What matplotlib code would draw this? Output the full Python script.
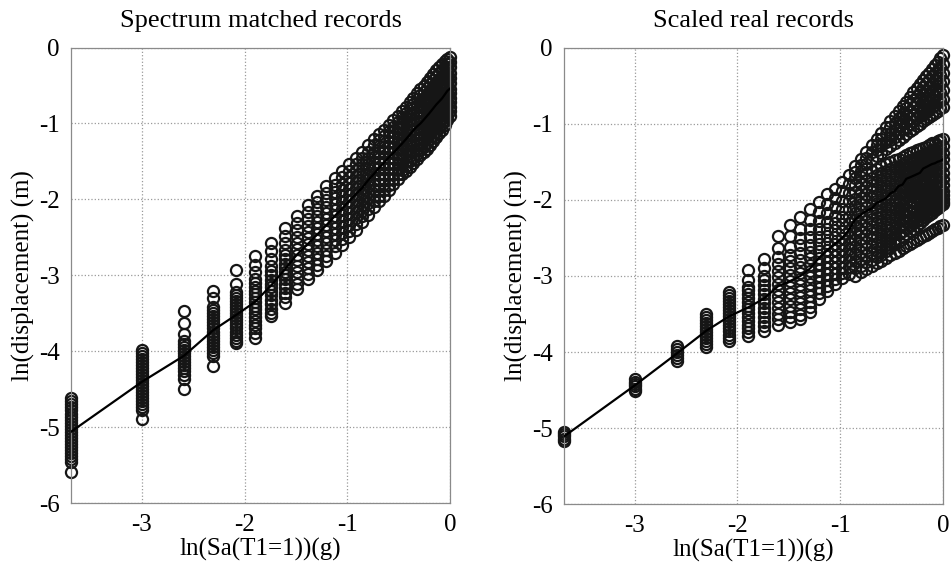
import matplotlib
matplotlib.use("Agg")
import matplotlib.pyplot as plt
import numpy as np

# intensity levels Sa(T1=1) in g (40 steps)
sa_levels = [0.025, 0.05, 0.075, 0.1, 0.125, 0.15, 0.175, 0.2, 0.225, 0.25,
             0.275, 0.3, 0.325, 0.35, 0.375, 0.4, 0.425, 0.45, 0.475, 0.5,
             0.525, 0.55, 0.575, 0.6, 0.625, 0.65, 0.675, 0.7, 0.725, 0.75,
             0.775, 0.8, 0.825, 0.85, 0.875, 0.9, 0.925, 0.95, 0.975, 1.0]

# ln(displacement) read per level - spectrum matched records
matched = [
    [-4.62, -4.66, -4.70, -4.74, -4.78, -4.82, -4.86, -4.90, -4.94, -4.98, -5.02, -5.06,
     -5.10, -5.14, -5.18, -5.22, -5.26, -5.30, -5.34, -5.38, -5.42, -5.46, -5.59],
    [-3.98, -4.02, -4.06, -4.10, -4.14, -4.18, -4.22, -4.26, -4.30, -4.34, -4.38, -4.42,
     -4.46, -4.50, -4.54, -4.58, -4.62, -4.66, -4.70, -4.74, -4.78, -4.89],
    [-3.47, -3.63, -3.77, -3.86, -3.90, -3.94, -3.98, -4.02, -4.06, -4.10, -4.14, -4.18,
     -4.22, -4.26, -4.31, -4.36, -4.50],
    [-3.20, -3.30, -3.42, -3.46, -3.50, -3.54, -3.58, -3.62, -3.66, -3.70, -3.74, -3.78,
     -3.82, -3.86, -3.90, -3.94, -3.98, -4.02, -4.06, -4.20],
    [-2.93, -3.12, -3.22, -3.26, -3.30, -3.34, -3.38, -3.42, -3.46, -3.50, -3.54, -3.58,
     -3.62, -3.66, -3.70, -3.74, -3.78, -3.82, -3.86, -3.89],
    [-2.75, -2.86, -2.96, -3.05, -3.10, -3.15, -3.20, -3.25, -3.30, -3.35, -3.40, -3.45,
     -3.50, -3.55, -3.60, -3.65, -3.70, -3.76, -3.83],
    [-2.57, -2.68, -2.78, -2.88, -2.94, -3.00, -3.06, -3.11, -3.16, -3.21, -3.26, -3.32, -3.38, -3.44, -3.49, -3.54],
    [-2.38, -2.48, -2.58, -2.67, -2.73, -2.79, -2.85, -2.90, -2.95, -3.00, -3.05, -3.11, -3.17, -3.23, -3.29, -3.36],
    [-2.22, -2.31, -2.40, -2.49, -2.57, -2.65, -2.73, -2.80, -2.88, -2.96, -3.04, -3.11, -3.18],
    [-2.08, -2.17, -2.26, -2.35, -2.43, -2.51, -2.59, -2.67, -2.75, -2.83, -2.91, -2.98, -3.05],
    [-1.95, -2.04, -2.13, -2.22, -2.30, -2.38, -2.46, -2.54, -2.62, -2.70, -2.78, -2.86, -2.93],
    [-1.83, -1.92, -2.01, -2.10, -2.18, -2.26, -2.34, -2.42, -2.50, -2.58, -2.66, -2.74, -2.81],
    [-1.72, -1.81, -1.90, -1.98, -2.06, -2.14, -2.22, -2.30, -2.38, -2.46, -2.54, -2.62, -2.70],
    [-1.62, -1.71, -1.80, -1.88, -1.96, -2.04, -2.12, -2.20, -2.28, -2.36, -2.44, -2.52, -2.60],
    [-1.53, -1.62, -1.70, -1.78, -1.86, -1.94, -2.02, -2.10, -2.18, -2.26, -2.34, -2.42, -2.50],
    [-1.45, -1.53, -1.61, -1.69, -1.77, -1.85, -1.93, -2.01, -2.09, -2.17, -2.25, -2.32, -2.40],
    [-1.37, -1.45, -1.53, -1.61, -1.69, -1.77, -1.85, -1.92, -1.99, -2.07, -2.15, -2.22, -2.30],
    [-1.29, -1.37, -1.45, -1.53, -1.60, -1.68, -1.75, -1.83, -1.90, -1.98, -2.05, -2.12, -2.20],
    [-1.21, -1.29, -1.37, -1.44, -1.52, -1.59, -1.67, -1.74, -1.81, -1.88, -1.95, -2.02, -2.10],
    [-1.14, -1.22, -1.30, -1.37, -1.45, -1.52, -1.59, -1.66, -1.73, -1.80, -1.87, -1.95, -2.02],
    [-1.08, -1.16, -1.23, -1.31, -1.38, -1.45, -1.52, -1.59, -1.66, -1.73, -1.80, -1.88, -1.95],
    [-1.02, -1.10, -1.17, -1.24, -1.31, -1.38, -1.45, -1.52, -1.59, -1.66, -1.73, -1.81, -1.88],
    [-0.96, -1.04, -1.11, -1.18, -1.25, -1.32, -1.39, -1.46, -1.52, -1.59, -1.66, -1.73, -1.80],
    [-0.90, -0.98, -1.05, -1.12, -1.19, -1.26, -1.33, -1.40, -1.46, -1.53, -1.60, -1.67, -1.73],
    [-0.84, -0.92, -0.99, -1.06, -1.13, -1.20, -1.27, -1.34, -1.40, -1.47, -1.54, -1.61, -1.67],
    [-0.78, -0.86, -0.93, -1.00, -1.07, -1.14, -1.21, -1.28, -1.35, -1.42, -1.49, -1.56, -1.62],
    [-0.72, -0.80, -0.87, -0.94, -1.01, -1.08, -1.15, -1.22, -1.29, -1.36, -1.43, -1.50, -1.57],
    [-0.66, -0.74, -0.81, -0.88, -0.95, -1.02, -1.09, -1.17, -1.24, -1.31, -1.38, -1.45, -1.52],
    [-0.60, -0.68, -0.76, -0.83, -0.90, -0.97, -1.04, -1.12, -1.19, -1.26, -1.33, -1.40, -1.47],
    [-0.55, -0.63, -0.71, -0.78, -0.85, -0.92, -1.00, -1.07, -1.14, -1.21, -1.28, -1.35, -1.42],
    [-0.50, -0.58, -0.66, -0.73, -0.80, -0.88, -0.95, -1.02, -1.09, -1.16, -1.23, -1.31, -1.38],
    [-0.45, -0.53, -0.61, -0.68, -0.76, -0.83, -0.90, -0.97, -1.04, -1.11, -1.19, -1.26, -1.33],
    [-0.40, -0.48, -0.56, -0.63, -0.71, -0.78, -0.85, -0.92, -0.99, -1.06, -1.14, -1.21, -1.28],
    [-0.35, -0.43, -0.51, -0.58, -0.66, -0.73, -0.80, -0.87, -0.94, -1.01, -1.09, -1.16, -1.23],
    [-0.30, -0.38, -0.46, -0.53, -0.61, -0.68, -0.75, -0.82, -0.89, -0.96, -1.04, -1.11, -1.18],
    [-0.26, -0.34, -0.42, -0.49, -0.57, -0.64, -0.71, -0.78, -0.85, -0.92, -0.99, -1.06, -1.13],
    [-0.22, -0.30, -0.37, -0.45, -0.52, -0.60, -0.67, -0.74, -0.81, -0.88, -0.94, -1.01, -1.08],
    [-0.18, -0.26, -0.33, -0.41, -0.48, -0.55, -0.62, -0.69, -0.76, -0.83, -0.89, -0.96, -1.02],
    [-0.15, -0.22, -0.29, -0.36, -0.43, -0.50, -0.57, -0.64, -0.71, -0.77, -0.83, -0.90, -0.96],
    [-0.12, -0.19, -0.26, -0.33, -0.40, -0.47, -0.54, -0.60, -0.66, -0.72, -0.78, -0.84, -0.90],
]

# ln(displacement) read per level - scaled real records
scaled = [
    [-5.05, -5.08, -5.11, -5.14, -5.17],
    [-4.36, -4.39, -4.42, -4.45, -4.48, -4.51],
    [-3.92, -3.96, -4.00, -4.04, -4.08, -4.12],
    [-3.50, -3.54, -3.58, -3.62, -3.66, -3.70, -3.74, -3.78, -3.82, -3.86, -3.90, -3.93],
    [-3.21, -3.25, -3.29, -3.33, -3.37, -3.41, -3.45, -3.49, -3.53, -3.57, -3.61, -3.65,
     -3.69, -3.73, -3.77, -3.81, -3.85],
    [-2.92, -3.06, -3.14, -3.19, -3.24, -3.29, -3.34, -3.39, -3.44, -3.49, -3.54, -3.59,
     -3.64, -3.69, -3.74, -3.79],
    [-2.78, -2.90, -3.00, -3.06, -3.12, -3.18, -3.24, -3.30, -3.36, -3.42, -3.48, -3.54, -3.60, -3.66, -3.72],
    [-2.47, -2.63, -2.75, -2.84, -2.93, -3.02, -3.10, -3.18, -3.26, -3.34, -3.42, -3.50, -3.57, -3.64],
    [-2.33, -2.48, -2.62, -2.72, -2.81, -2.90, -2.99, -3.07, -3.15, -3.23, -3.31, -3.39, -3.47, -3.54, -3.60],
    [-2.23, -2.38, -2.50, -2.60, -2.70, -2.79, -2.88, -2.96, -3.04, -3.12, -3.20, -3.28, -3.36, -3.44, -3.51, -3.56],
    [-2.12, -2.26, -2.38, -2.49, -2.59, -2.68, -2.77, -2.86, -2.94, -3.02, -3.10, -3.18, -3.26, -3.34, -3.41, -3.48],
    [-2.03, -2.16, -2.28, -2.39, -2.49, -2.58, -2.67, -2.76, -2.84, -2.92, -3.00, -3.08, -3.16, -3.23, -3.30],
    [-1.93, -2.06, -2.18, -2.29, -2.39, -2.48, -2.57, -2.66, -2.74, -2.82, -2.90, -2.98, -3.06, -3.13, -3.20],
    [-1.86, -1.98, -2.10, -2.21, -2.31, -2.40, -2.49, -2.58, -2.66, -2.74, -2.82, -2.90, -2.97, -3.04, -3.11],
    [-1.77, -1.89, -2.01, -2.12, -2.22, -2.32, -2.41, -2.50, -2.58, -2.66, -2.74, -2.82, -2.89, -2.96, -3.03],
    [-1.67, -1.79, -1.91, -2.02, -2.12, -2.22, -2.31, -2.40, -2.49, -2.57, -2.65, -2.73, -2.81, -2.88, -2.98],
    [-1.56, -1.64, -1.72, -1.81, -1.90, -1.99, -2.08, -2.17, -2.26, -2.35, -2.44, -2.53, -2.62, -2.71, -2.80, -2.89, -3.00],
    [-1.46, -1.54, -1.62, -1.70, -1.79, -1.88, -1.97, -2.06, -2.15, -2.24, -2.33, -2.42, -2.51, -2.60, -2.69, -2.78, -2.87, -2.95],
    [-1.37, -1.45, -1.53, -1.65, -1.74, -1.83, -1.92, -2.01, -2.10, -2.19, -2.28, -2.37, -2.46, -2.55, -2.64, -2.73, -2.82, -2.91],
    [-1.28, -1.37, -1.47, -1.62, -1.71, -1.80, -1.89, -1.98, -2.07, -2.16, -2.25, -2.34, -2.43, -2.52, -2.61, -2.70, -2.79, -2.87],
    [-1.20, -1.28, -1.35, -1.42, -1.59, -1.68, -1.77, -1.86, -1.95, -2.04, -2.13, -2.22, -2.31, -2.40, -2.49, -2.58, -2.67, -2.75, -2.83],
    [-1.12, -1.20, -1.29, -1.38, -1.56, -1.65, -1.74, -1.83, -1.92, -2.01, -2.10, -2.19, -2.28, -2.37, -2.46, -2.55, -2.64, -2.72, -2.80],
    [-1.04, -1.14, -1.24, -1.33, -1.53, -1.62, -1.71, -1.80, -1.89, -1.98, -2.07, -2.16, -2.25, -2.34, -2.43, -2.51, -2.59, -2.67, -2.76],
    [-0.97, -1.05, -1.13, -1.21, -1.29, -1.51, -1.60, -1.69, -1.78, -1.87, -1.96, -2.05, -2.14, -2.23, -2.32, -2.40, -2.48, -2.56, -2.63, -2.73],
    [-0.90, -0.99, -1.08, -1.17, -1.25, -1.48, -1.57, -1.66, -1.75, -1.84, -1.93, -2.02, -2.11, -2.20, -2.29, -2.37, -2.45, -2.52, -2.58, -2.70],
    [-0.83, -0.93, -1.02, -1.12, -1.21, -1.46, -1.55, -1.64, -1.73, -1.82, -1.91, -2.00, -2.09, -2.18, -2.27, -2.36, -2.45, -2.54, -2.67],
    [-0.77, -0.87, -0.97, -1.07, -1.17, -1.44, -1.53, -1.62, -1.71, -1.80, -1.89, -1.98, -2.07, -2.16, -2.25, -2.33, -2.41, -2.49, -2.64],
    [-0.71, -0.80, -0.89, -0.98, -1.06, -1.14, -1.41, -1.50, -1.59, -1.68, -1.77, -1.86, -1.95, -2.04, -2.13, -2.21, -2.29, -2.37, -2.45, -2.61],
    [-0.65, -0.74, -0.83, -0.92, -1.01, -1.10, -1.39, -1.48, -1.57, -1.66, -1.75, -1.84, -1.93, -2.02, -2.10, -2.18, -2.26, -2.34, -2.41, -2.58],
    [-0.59, -0.69, -0.78, -0.88, -0.97, -1.07, -1.37, -1.46, -1.55, -1.64, -1.73, -1.82, -1.91, -2.00, -2.08, -2.16, -2.24, -2.31, -2.38, -2.56],
    [-0.53, -0.63, -0.73, -0.83, -0.93, -1.03, -1.35, -1.44, -1.53, -1.62, -1.71, -1.80, -1.89, -1.98, -2.06, -2.14, -2.22, -2.28, -2.34, -2.53],
    [-0.48, -0.58, -0.69, -0.79, -0.90, -1.00, -1.33, -1.42, -1.51, -1.60, -1.69, -1.78, -1.87, -1.96, -2.04, -2.12, -2.19, -2.25, -2.30, -2.50],
    [-0.43, -0.52, -0.61, -0.70, -0.79, -0.88, -0.97, -1.32, -1.41, -1.50, -1.59, -1.68, -1.77, -1.86, -1.95, -2.03, -2.10, -2.17, -2.22, -2.27, -2.48],
    [-0.38, -0.47, -0.56, -0.66, -0.75, -0.85, -0.94, -1.30, -1.39, -1.48, -1.57, -1.66, -1.75, -1.84, -1.92, -2.00, -2.07, -2.13, -2.19, -2.23, -2.46],
    [-0.33, -0.42, -0.52, -0.62, -0.72, -0.82, -0.91, -1.28, -1.37, -1.46, -1.55, -1.64, -1.73, -1.82, -1.90, -1.98, -2.05, -2.11, -2.16, -2.20, -2.44],
    [-0.28, -0.38, -0.48, -0.58, -0.68, -0.78, -0.88, -1.26, -1.35, -1.44, -1.53, -1.62, -1.71, -1.80, -1.88, -1.96, -2.03, -2.09, -2.14, -2.17, -2.41],
    [-0.23, -0.33, -0.43, -0.54, -0.64, -0.75, -0.86, -1.25, -1.34, -1.43, -1.52, -1.61, -1.70, -1.79, -1.87, -1.94, -2.01, -2.07, -2.11, -2.14, -2.39],
    [-0.19, -0.29, -0.40, -0.51, -0.61, -0.72, -0.83, -1.23, -1.32, -1.41, -1.50, -1.59, -1.68, -1.77, -1.85, -1.92, -1.98, -2.04, -2.08, -2.11, -2.37],
    [-0.14, -0.25, -0.36, -0.47, -0.58, -0.69, -0.80, -1.22, -1.31, -1.40, -1.49, -1.58, -1.67, -1.75, -1.83, -1.90, -1.96, -2.01, -2.05, -2.08, -2.35],
    [-0.10, -0.21, -0.33, -0.44, -0.56, -0.67, -0.78, -1.20, -1.29, -1.38, -1.47, -1.56, -1.65, -1.73, -1.81, -1.88, -1.94, -1.99, -2.03, -2.05, -2.33],
]

titles = ["Spectrum matched records", "Scaled real records"]

plt.rcParams['font.family'] = ['Liberation Serif', 'DejaVu Serif']
plt.rcParams['axes.unicode_minus'] = False

ln_sa = np.log(sa_levels)

fig = plt.figure(figsize=(9.51, 5.73), dpi=100)
ax1 = fig.add_axes([0.0747, 0.122, 0.3985, 0.795])
ax2 = fig.add_axes([0.593, 0.120, 0.3985, 0.797])

for ax, data, title in zip([ax1, ax2], [matched, scaled], titles):
    xs = np.concatenate([[x] * len(v) for x, v in zip(ln_sa, data)])
    ys = np.concatenate(data)
    ax.plot(xs, ys, 'o', ms=8, mfc='none', mec='#161616', mew=1.6,
            zorder=2, clip_on=False)
    # median of each level joined as the trend line
    med = [np.median(v) for v in data]
    ax.plot(ln_sa, med, color='black', lw=1.6, zorder=3)

    ax.set_xlim(ln_sa[0], 0)
    ax.set_ylim(-6, 0)
    ax.set_xticks([-3, -2, -1, 0])
    ax.set_yticks([-6, -5, -4, -3, -2, -1, 0])
    ax.grid(True, linestyle=':', color='#9a9a9a', lw=0.9)
    ax.set_axisbelow(True)
    for s in ax.spines.values():
        s.set_color('#8a8a8a')
        s.set_linewidth(0.9)
    ax.tick_params(direction='in', length=0, labelsize=18, pad=8)
    ax.set_title(title, fontsize=19, pad=15)
    ax.set_xlabel('ln(Sa(T1=1))(g)', fontsize=18, labelpad=1)
    ax.set_ylabel('ln(displacement) (m)', fontsize=18, labelpad=3)

fig.savefig('out.png', dpi=100)
